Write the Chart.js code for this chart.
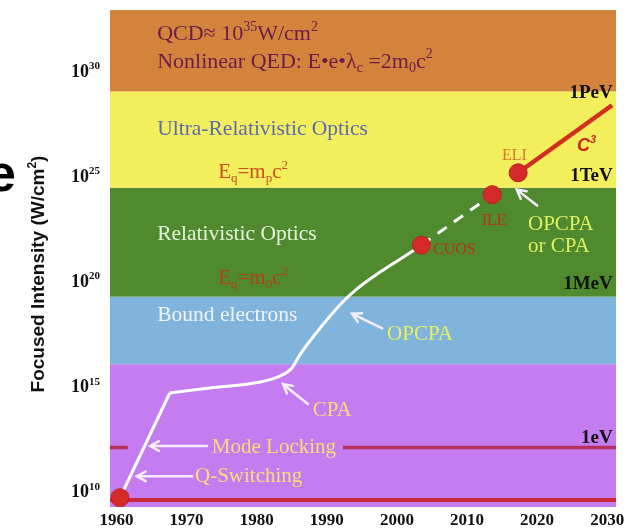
<!DOCTYPE html>
<html>
<head>
<meta charset="utf-8">
<script src="https://cdn.jsdelivr.net/npm/chart.js@4"></script>
<style>
  html, body { margin: 0; padding: 0; background: #fff; }
</style>
</head>
<body>
<canvas id="myChart" width="630" height="532"></canvas>
<script>
// x = year, y = log10 of focused intensity in W/cm2
let xTicks = [1960, 1970, 1980, 1990, 2000, 2010, 2020, 2030];
let yTicks = [10, 15, 20, 25, 30];

// regime bands, bottom to top (log10 W/cm2)
let bandEdges = [9.25, 16.04, 19.25, 24.43, 29.01, 32.88];
let bandColors = ['#c47cf0', '#80b4dc', '#4f8b2e', '#f3ee5c', '#d4833c'];

// Q-switching / mode locking rise
let riseYears = [1960.5, 1967.6];
let riseLogs = [9.69, 14.67];

// CPA then OPCPA curve
let curveYears = [1967.6, 1973.3, 1980.5, 1983.3, 1985.0, 1986.2, 1989.0, 1992.3, 1994.3, 1997.6, 2000.9, 2003.5];
let curveLogs = [14.67, 14.91, 15.19, 15.47, 15.85, 16.51, 17.74, 19.01, 19.62, 20.42, 21.13, 21.70];

// dashed step CUOS -> ILE
let dashYears = [2003.5, 2013.6];
let dashLogs = [21.70, 24.10];

// C3 projection from ELI
let c3Years = [2017.3, 2030.7];
let c3Logs = [25.14, 28.35];

// facilities: first laser, CUOS, ILE, ELI
let dotYears = [1960.5, 2003.5, 2013.6, 2017.3];
let dotLogs = [9.69, 21.70, 24.10, 25.14];

// 1 eV line (stub + main) and bottom line
let eVYears = [1959.07, 1961.6, null, 1992.3, 2031.26];
let eVLog = 12.08;
let floorYears = [1959.07, 2031.26];
let floorLog = 9.58;

// arrows [fromYear, fromLog, toYear, toLog]
let arrows = [
  [1972.9, 12.15, 1964.8, 12.15],
  [1970.8, 10.71, 1962.9, 10.71],
  [1987.3, 14.15, 1983.75, 15.09],
  [1997.9, 17.74, 1993.6, 18.44],
  [2020.0, 23.58, 2017.1, 24.34]
];

const serif = 'Liberation Serif, Times New Roman, serif';
const sans = 'Liberation Sans, Arial, sans-serif';

// text labels: parts [text, kind], year, log, size, color, weight, align
let notes = [
  [[['QCD\u2248 10', ''], ['35', 'sup'], ['W/cm', ''], ['2', 'sup']], 1965.8, 31.46, 22, '#6a1d4a', 'normal', 'left'],
  [[['Nonlinear QED: E\u2022e\u2022\u03bb', ''], ['c', 'sub'], [' =2m', ''], ['0', 'sub'], ['c', ''], ['2', 'sup']], 1965.8, 30.14, 22, '#6a1d4a', 'normal', 'left'],
  [[['Ultra-Relativistic Optics', '']], 1965.8, 26.93, 21.5, '#5b6db0', 'normal', 'left'],
  [[['E', ''], ['q', 'sub'], ['=m', ''], ['p', 'sub'], ['c', ''], ['2', 'sup']], 1974.5, 24.91, 21, '#c8501e', 'normal', 'left'],
  [[['Relativistic Optics', '']], 1965.8, 21.93, 21.5, '#e6f2dc', 'normal', 'left'],
  [[['E', ''], ['q', 'sub'], ['=m', ''], ['0', 'sub'], ['c', ''], ['2', 'sup']], 1974.5, 19.86, 21, '#b4401a', 'normal', 'left'],
  [[['Bound electrons', '']], 1965.8, 18.07, 21.5, '#f0f4fa', 'normal', 'left'],
  [[['OPCPA', '']], 1998.6, 17.17, 21, '#e8f060', 'normal', 'left'],
  [[['CPA', '']], 1988.0, 13.58, 21, '#f8dc78', 'normal', 'left'],
  [[['Mode Locking', '']], 1973.6, 11.84, 21, '#f8dc78', 'normal', 'left'],
  [[['Q-Switching', '']], 1971.2, 10.42, 21, '#f8dc78', 'normal', 'left'],
  [[['CUOS', '']], 2005.15, 21.27, 16, '#b83020', 'normal', 'left'],
  [[['ILE', '']], 2012.1, 22.64, 16, '#b83020', 'normal', 'left'],
  [[['ELI', '']], 2015.0, 25.75, 16, '#d07a30', 'normal', 'left'],
  [[['OPCPA', '']], 2018.7, 22.41, 21, '#dcf060', 'normal', 'left'],
  [[['or CPA', '']], 2018.7, 21.37, 21, '#dcf060', 'normal', 'left'],
  [[['1PeV', '']], 2030.8, 28.68, 19, '#111', 'bold', 'right'],
  [[['1TeV', '']], 2030.8, 24.76, 19, '#111', 'bold', 'right'],
  [[['1MeV', '']], 2030.8, 19.62, 19, '#111', 'bold', 'right'],
  [[['1eV', '']], 2030.8, 12.31, 19, '#111', 'bold', 'right']
];

function pts(xs, ys) {
  return xs.map((x, i) => ({ x: x, y: Array.isArray(ys) ? ys[i] : (x === null ? null : ys) }));
}

function drawRich(ctx, parts, x, y, size, color, weight, family, align, style) {
  const big = (style || '') + ' ' + weight + ' ' + size + 'px ' + family;
  const small = (style || '') + ' ' + weight + ' ' + Math.round(size * 0.62) + 'px ' + family;
  let w = 0;
  parts.forEach(p => { ctx.font = p[1] ? small : big; w += ctx.measureText(p[0]).width; });
  let cx = align === 'right' ? x - w : x;
  ctx.fillStyle = color;
  ctx.textBaseline = 'alphabetic';
  ctx.textAlign = 'left';
  parts.forEach(p => {
    ctx.font = p[1] ? small : big;
    let dy = 0;
    if (p[1] === 'sup') dy = -size * 0.42;
    if (p[1] === 'sub') dy = size * 0.2;
    ctx.fillText(p[0], cx, y + dy);
    cx += ctx.measureText(p[0]).width;
  });
}

const backdrop = {
  id: 'backdrop',
  beforeDatasetsDraw(chart) {
    const { ctx, chartArea: a, scales: { y } } = chart;
    ctx.save();
    for (let i = 0; i < bandColors.length; i++) {
      const top = y.getPixelForValue(bandEdges[i + 1]);
      const bot = y.getPixelForValue(bandEdges[i]);
      ctx.fillStyle = bandColors[i];
      ctx.fillRect(a.left, top, a.right - a.left, bot - top);
    }
    ctx.restore();
  }
};

const overlay = {
  id: 'overlay',
  afterDatasetsDraw(chart) {
    const { ctx, scales: { x, y } } = chart;
    ctx.save();
    ctx.strokeStyle = '#f4eefc';
    ctx.lineWidth = 2.5;
    ctx.lineCap = 'round';
    arrows.forEach(a => {
      const x1 = x.getPixelForValue(a[0]), y1 = y.getPixelForValue(a[1]);
      const x2 = x.getPixelForValue(a[2]), y2 = y.getPixelForValue(a[3]);
      const ang = Math.atan2(y2 - y1, x2 - x1);
      const h = 10;
      ctx.beginPath();
      ctx.moveTo(x1, y1);
      ctx.lineTo(x2, y2);
      ctx.moveTo(x2 - h * Math.cos(ang - 0.5), y2 - h * Math.sin(ang - 0.5));
      ctx.lineTo(x2, y2);
      ctx.lineTo(x2 - h * Math.cos(ang + 0.5), y2 - h * Math.sin(ang + 0.5));
      ctx.stroke();
    });
    notes.forEach(n => {
      drawRich(ctx, n[0], x.getPixelForValue(n[1]), y.getPixelForValue(n[2]), n[3], n[4], n[5], serif, n[6]);
    });
    // C3 label
    drawRich(ctx, [['C', ''], ['3', 'sup']], x.getPixelForValue(2025.7), y.getPixelForValue(26.18), 18, '#c82818', 'bold', sans, 'left', 'italic');
    ctx.restore();
  },
  afterDraw(chart) {
    const { ctx, scales: { y } } = chart;
    ctx.save();
    // y tick labels 10^n
    yTicks.forEach(v => {
      const py = y.getPixelForValue(v);
      drawRich(ctx, [['10', ''], [String(v), 'sup']], 100, py + 6, 18, '#111', 'bold', serif, 'right');
    });
    // y axis title
    ctx.translate(44, 274);
    ctx.rotate(-Math.PI / 2);
    const parts = [['Focused Intensity (W/cm', ''], ['2', 'sup'], [')', '']];
    let w = 0;
    parts.forEach(p => { ctx.font = (p[1] ? 'bold 12px ' : 'bold 19px ') + sans; w += ctx.measureText(p[0]).width; });
    drawRich(ctx, parts, -w / 2, 0, 19, '#111', 'bold', sans, 'left');
    ctx.restore();
    // clipped letter from the neighbouring slide
    ctx.save();
    ctx.font = 'bold 52px ' + sans;
    ctx.fillStyle = '#000';
    ctx.fillText('e', -13, 191);
    ctx.restore();
  }
};

new Chart(document.getElementById('myChart'), {
  type: 'line',
  data: {
    datasets: [
      {
        label: 'Facilities',
        data: pts(dotYears, dotLogs),
        showLine: false,
        pointRadius: 9,
        pointBackgroundColor: '#d42a2a',
        pointBorderColor: '#c02024',
        pointBorderWidth: 1
      },
      {
        label: 'Q-switching and mode locking',
        data: pts(riseYears, riseLogs),
        borderColor: '#ffffff',
        borderWidth: 3,
        pointRadius: 0,
        tension: 0
      },
      {
        label: 'CPA / OPCPA',
        data: pts(curveYears, curveLogs),
        borderColor: '#ffffff',
        borderWidth: 3,
        pointRadius: 0,
        cubicInterpolationMode: 'monotone'
      },
      {
        label: 'CUOS to ILE',
        data: pts(dashYears, dashLogs),
        borderColor: '#ffffff',
        borderWidth: 3,
        borderDash: [11, 9],
        pointRadius: 0
      },
      {
        label: 'C3',
        data: pts(c3Years, c3Logs),
        borderColor: '#d03020',
        borderWidth: 4.5,
        pointRadius: 0
      },
      {
        label: '1 eV',
        data: pts(eVYears, eVLog),
        borderColor: '#b8305a',
        borderWidth: 3.5,
        pointRadius: 0,
        spanGaps: false
      },
      {
        label: 'floor',
        data: pts(floorYears, floorLog),
        borderColor: '#c8283a',
        borderWidth: 4,
        pointRadius: 0
      }
    ]
  },
  options: {
    responsive: false,
    animation: false,
    layout: { padding: { top: 5, right: 14, left: 0, bottom: 0 } },
    plugins: { legend: { display: false }, tooltip: { enabled: false } },
    scales: {
      x: {
        type: 'linear',
        min: 1959.07,
        max: 2031.26,
        afterBuildTicks: s => { s.ticks = xTicks.map(v => ({ value: v })); },
        afterFit: s => { s.height = 25; },
        grid: { display: false, drawTicks: false },
        border: { display: false },
        ticks: {
          font: { family: serif, size: 17, weight: 'bold' },
          color: '#111',
          padding: 3,
          maxRotation: 0,
          autoSkip: false,
          callback: v => String(v)
        }
      },
      y: {
        type: 'linear',
        min: 9.25,
        max: 32.88,
        afterFit: s => { s.width = 110; },
        grid: { display: false },
        border: { display: false },
        ticks: { display: false }
      }
    }
  },
  plugins: [backdrop, overlay]
});
</script>
</body>
</html>
